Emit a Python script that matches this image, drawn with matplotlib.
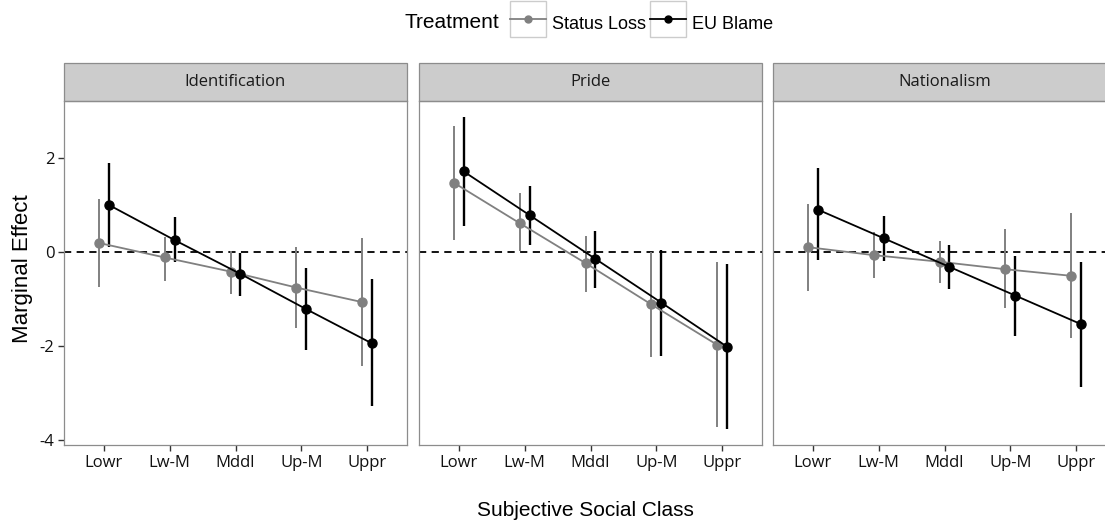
"""
Marginal effects of treatment by subjective social class, three outcome panels.
"""
import matplotlib
matplotlib.use('Agg')
import matplotlib.pyplot as plt
import matplotlib.patches as patches
from matplotlib.lines import Line2D
from matplotlib.legend_handler import HandlerLine2D
import numpy as np

classes = ['Lowr', 'Lw-M', 'Mddl', 'Up-M', 'Uppr']
panels = ['Identification', 'Pride', 'Nationalism']
treatments = ['Status Loss', 'EU Blame']

# Status Loss estimates and 95% bounds, one row per panel
status_est = [[0.20, -0.11, -0.41, -0.75, -1.06],
              [1.48, 0.62, -0.23, -1.11, -1.97],
              [0.11, -0.06, -0.20, -0.36, -0.50]]
status_lo = [[-0.73, -0.61, -0.89, -1.60, -2.42],
             [0.26, 0.02, -0.84, -2.22, -3.72],
             [-0.82, -0.54, -0.65, -1.19, -1.83]]
status_hi = [[1.13, 0.33, 0.02, 0.12, 0.30],
             [2.69, 1.27, 0.35, 0.00, -0.21],
             [1.02, 0.44, 0.24, 0.49, 0.83]]

# EU Blame estimates and 95% bounds
blame_est = [[1.01, 0.26, -0.46, -1.21, -1.94],
             [1.72, 0.79, -0.14, -1.07, -2.01],
             [0.91, 0.30, -0.31, -0.92, -1.53]]
blame_lo = [[0.12, -0.21, -0.94, -2.08, -3.28],
            [0.55, 0.15, -0.75, -2.20, -3.77],
            [-0.16, -0.18, -0.77, -1.77, -2.86]]
blame_hi = [[1.91, 0.75, -0.01, -0.34, -0.57],
            [2.89, 1.42, 0.46, 0.05, -0.25],
            [1.79, 0.78, 0.15, -0.08, -0.21]]

GRAY = '#808080'
BLACK = '#000000'
W, H = 1105, 525


class BoxedHandler(HandlerLine2D):
    # ggplot-style legend key: line + point inside a gray framed square
    def create_artists(self, legend, orig_handle, xdescent, ydescent,
                       width, height, fontsize, trans):
        box_h = width
        cy = (height - ydescent) / 2
        box = patches.Rectangle((-xdescent, cy - box_h / 2), width, box_h,
                                facecolor='white', edgecolor='#cccccc',
                                linewidth=1.0, transform=trans)
        arts = super().create_artists(legend, orig_handle, xdescent, ydescent,
                                      width, height, fontsize, trans)
        for a in arts:
            if a.get_marker() in ('None', None, ''):
                a.set_xdata([-xdescent + width * 0.18, -xdescent + width * 0.82])
        return [box] + arts


fig = plt.figure(figsize=(W / 100, H / 100), dpi=100)

left_px = [64.3, 419.3, 773.3]
panel_w, top_px, bottom_px = 342.4, 101.0, 445.0
strip_h = 38.0

x = np.arange(1, len(classes) + 1)
dodge = 0.075

axes = []
for p, name in enumerate(panels):
    ax = fig.add_axes([left_px[p] / W, 1 - bottom_px / H,
                       panel_w / W, (bottom_px - top_px) / H])
    axes.append(ax)

    ax.axhline(0, color='black', linestyle=(0, (4, 3)), linewidth=1.3, zorder=1)

    series = [(status_est[p], status_lo[p], status_hi[p], GRAY, -dodge, 1.4),
              (blame_est[p], blame_lo[p], blame_hi[p], BLACK, dodge, 1.7)]
    for est, lo, hi, col, off, lw in series:
        xs = x + off
        ax.vlines(xs, lo, hi, color=col, linewidth=lw, zorder=2)
        ax.plot(xs, est, color=col, linewidth=1.3, marker='o',
                markersize=6.5, zorder=3)

    ax.set_xlim(0.4, 5.6)
    ax.set_ylim(-4.1, 3.22)
    ax.set_xticks(x)
    ax.set_xticklabels(classes, fontsize=12, family='Open Sans', color='#111111')
    ax.set_yticks([-4, -2, 0, 2])
    ax.set_yticklabels(['-4', '-2', '0', '2'], fontsize=12, family='Open Sans',
                       color='#111111')
    ax.tick_params(length=4, width=1.0, color='#333333', pad=3)
    for s in ax.spines.values():
        s.set_color('#8c8c8c')
        s.set_linewidth(0.9)
    if p > 0:
        ax.tick_params(axis='y', left=False, labelleft=False)

    # facet strip on top of the panel
    frac = strip_h / (bottom_px - top_px)
    strip = patches.Rectangle((0, 1), 1, frac, transform=ax.transAxes,
                              facecolor='#cccccc', edgecolor='#8c8c8c',
                              linewidth=0.9, clip_on=False)
    ax.add_patch(strip)
    ax.text(0.5, 1 + frac / 2, name, transform=ax.transAxes, ha='center',
            va='center', fontsize=12, family='Open Sans', color='#1a1a1a')

fig.text(23 / W, 1 - 269 / H, 'Marginal Effect', rotation=90, ha='center',
         va='center', fontsize=16, family='Liberation Sans')
fig.text(585 / W, 1 - 510 / H, 'Subjective Social Class', ha='center',
         va='center', fontsize=15, family='Liberation Sans')

# legend
fig.text(452 / W, 1 - 22 / H, 'Treatment', ha='center', va='center',
         fontsize=15, family='Liberation Sans')
handles = [Line2D([], [], color=GRAY, marker='o', markersize=5, linewidth=1.3),
           Line2D([], [], color=BLACK, marker='o', markersize=5, linewidth=1.3)]
fig.legend(handles, treatments, loc='center left',
           bbox_to_anchor=(510 / W, 1 - 23 / H), ncol=2, frameon=False,
           prop={'family': 'Liberation Sans', 'size': 13},
           handler_map={Line2D: BoxedHandler()},
           handlelength=2.0, handleheight=2.0, handletextpad=0.3,
           columnspacing=0.25, borderpad=0, borderaxespad=0)

plt.savefig('out.png', dpi=100)
plt.close()
